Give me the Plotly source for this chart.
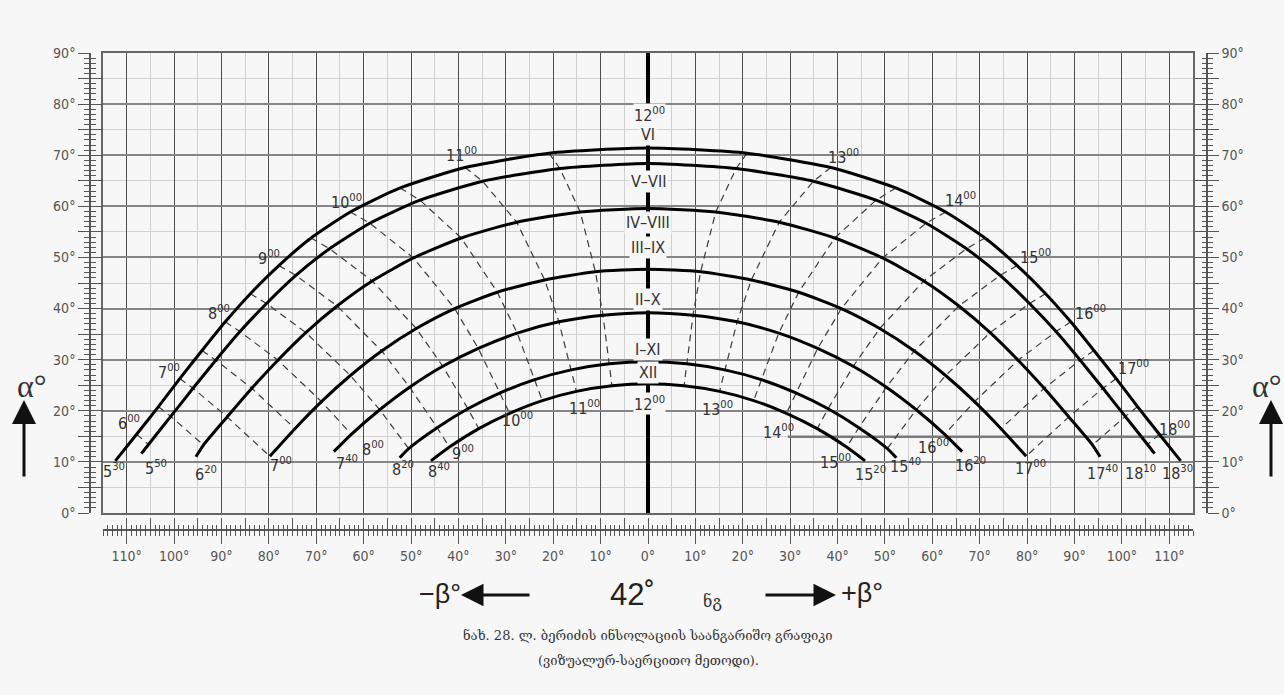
import plotly.graph_objects as go

# ---------------- data ----------------
# times in minutes after midnight, beta = azimuth (deg), alpha = sun altitude (deg)
time_VI = [330, 360, 390, 420, 450, 480, 510, 540, 570, 600, 630, 660, 690, 720,
           750, 780, 810, 840, 870, 900, 930, 960, 990, 1020, 1050, 1080, 1110]
beta_VI = [-112.4, -107.9, -103.3, -98.8, -94.1, -89.2, -83.9, -77.9, -71.1, -62.8, -52.3, -38.6, -20.9, 0,
           20.9, 38.6, 52.3, 62.8, 71.1, 77.9, 83.9, 89.2, 94.1, 98.8, 103.3, 107.9, 112.4]
alpha_VI = [10.2, 15.4, 20.8, 26.3, 31.8, 37.4, 42.9, 48.4, 53.8, 58.9, 63.6, 67.6, 70.4, 71.4,
            70.4, 67.6, 63.6, 58.9, 53.8, 48.4, 42.9, 37.4, 31.8, 26.3, 20.8, 15.4, 10.2]

time_V_VII = [350, 360, 390, 420, 450, 480, 510, 540, 570, 600, 630, 660, 690, 720,
              750, 780, 810, 840, 870, 900, 930, 960, 990, 1020, 1050, 1080, 1090]
beta_V_VII = [-106.9, -105.4, -100.7, -96.0, -91.2, -86.1, -80.5, -74.3, -67.2, -58.7, -48.1, -34.9, -18.6, 0,
              18.6, 34.9, 48.1, 58.7, 67.2, 74.3, 80.5, 86.1, 91.2, 96.0, 100.7, 105.4, 106.9]
alpha_V_VII = [11.6, 13.4, 18.9, 24.4, 29.9, 35.5, 41.0, 46.5, 51.7, 56.7, 61.2, 64.9, 67.4, 68.4,
               67.4, 64.9, 61.2, 56.7, 51.7, 46.5, 41.0, 35.5, 29.9, 24.4, 18.9, 13.4, 11.6]

time_IV_VIII = [380, 390, 420, 450, 480, 510, 540, 570, 600, 630, 660, 690, 720,
                750, 780, 810, 840, 870, 900, 930, 960, 990, 1020, 1050, 1060]
beta_IV_VIII = [-95.4, -93.8, -88.8, -83.6, -78.1, -72.2, -65.6, -58.2, -49.5, -39.4, -27.7, -14.3, 0,
                14.3, 27.7, 39.4, 49.5, 58.2, 65.6, 72.2, 78.1, 83.6, 88.8, 93.8, 95.4]
alpha_IV_VIII = [11.0, 13.3, 18.8, 24.4, 29.9, 35.3, 40.5, 45.4, 49.9, 53.8, 56.9, 58.9, 59.6,
                 58.9, 56.9, 53.8, 49.9, 45.4, 40.5, 35.3, 29.9, 24.4, 18.8, 13.3, 11.0]

time_III_IX = [420, 450, 480, 510, 540, 570, 600, 630, 660, 690, 720,
               750, 780, 810, 840, 870, 900, 930, 960, 990, 1020]
beta_III_IX = [-79.8, -74.5, -68.9, -62.8, -56.2, -48.9, -40.8, -31.8, -21.8, -11.1, 0,
               11.1, 21.8, 31.8, 40.8, 48.9, 56.2, 62.8, 68.9, 74.5, 79.8]
alpha_III_IX = [11.1, 16.5, 21.8, 26.9, 31.7, 36.1, 40.0, 43.2, 45.6, 47.2, 47.7,
                47.2, 45.6, 43.2, 40.0, 36.1, 31.7, 26.9, 21.8, 16.5, 11.1]

time_II_X = [460, 480, 510, 540, 570, 600, 630, 660, 690, 720,
             750, 780, 810, 840, 870, 900, 930, 960, 980]
beta_II_X = [-66.3, -62.6, -56.6, -50.3, -43.3, -35.8, -27.6, -18.8, -9.5, 0,
             9.5, 18.8, 27.6, 35.8, 43.3, 50.3, 56.6, 62.6, 66.3]
alpha_II_X = [12.0, 15.4, 20.2, 24.6, 28.7, 32.2, 35.2, 37.4, 38.7, 39.2,
              38.7, 37.4, 35.2, 32.2, 28.7, 24.6, 20.2, 15.4, 12.0]

time_I_XI = [500, 510, 540, 570, 600, 630, 660, 690, 720,
             750, 780, 810, 840, 870, 900, 930, 940]
beta_I_XI = [-52.4, -50.5, -44.5, -38.0, -31.2, -23.9, -16.2, -8.2, 0,
             8.2, 16.2, 23.9, 31.2, 38.0, 44.5, 50.5, 52.4]
alpha_I_XI = [10.8, 12.6, 16.7, 20.4, 23.5, 26.1, 28.0, 29.2, 29.6,
              29.2, 28.0, 26.1, 23.5, 20.4, 16.7, 12.6, 10.8]

time_XII = [520, 540, 570, 600, 630, 660, 690, 720,
            750, 780, 810, 840, 870, 900, 920]
beta_XII = [-45.8, -41.9, -35.7, -29.2, -22.3, -15.1, -7.6, 0,
            7.6, 15.1, 22.3, 29.2, 35.7, 41.9, 45.8]
alpha_XII = [10.2, 12.9, 16.5, 19.5, 22.0, 23.8, 24.9, 25.3,
             24.9, 23.8, 22.0, 19.5, 16.5, 12.9, 10.2]

# darker reference line seen at about 15 deg on the right-hand side
ref_line_beta = [29.5, 115.0]
ref_line_alpha = [14.9, 14.9]

# month labels on the noon line
month_text = ["VI", "V–VII", "IV–VIII", "III–IX", "II–X", "I–XI", "XII"]
month_alpha = [74.0, 64.8, 56.9, 52.0, 41.7, 31.9, 27.4]

# hour labels (upper ends of the hour lines)
top_text = ["6<sup>00</sup>", "7<sup>00</sup>", "8<sup>00</sup>", "9<sup>00</sup>", "10<sup>00</sup>",
            "11<sup>00</sup>", "12<sup>00</sup>", "13<sup>00</sup>", "14<sup>00</sup>", "15<sup>00</sup>",
            "16<sup>00</sup>", "17<sup>00</sup>", "18<sup>00</sup>"]
top_beta = [-109.5, -101.0, -90.5, -80.0, -63.6, -39.3, 0.4, 41.2, 66.0, 81.8, 93.4, 102.5, 111.0]
top_alpha = [17.8, 27.6, 39.2, 49.9, 60.9, 70.1, 77.9, 69.7, 61.3, 50.1, 39.3, 28.4, 16.6]

# hour labels (lower ends / start and end of each path)
bot_text = ["5<sup>30</sup>", "5<sup>50</sup>", "6<sup>20</sup>", "7<sup>00</sup>", "7<sup>40</sup>",
            "8<sup>00</sup>", "8<sup>20</sup>", "8<sup>40</sup>", "9<sup>00</sup>", "10<sup>00</sup>",
            "11<sup>00</sup>", "12<sup>00</sup>", "13<sup>00</sup>", "14<sup>00</sup>", "15<sup>00</sup>",
            "15<sup>20</sup>", "15<sup>40</sup>", "16<sup>00</sup>", "16<sup>20</sup>", "17<sup>00</sup>",
            "17<sup>40</sup>", "18<sup>10</sup>", "18<sup>30</sup>"]
bot_beta = [-112.7, -103.8, -93.2, -77.4, -63.6, -58.1, -51.8, -44.0, -39.1, -27.5,
            -13.3, 0.4, 14.6, 27.5, 39.5, 46.9, 54.3, 60.2, 68.1, 80.8, 96.0, 104.0, 111.8]
bot_alpha = [8.4, 9.0, 7.8, 9.4, 9.8, 12.7, 8.8, 8.4, 11.9, 18.2,
             20.7, 21.5, 20.5, 15.9, 10.0, 7.8, 9.3, 13.0, 9.4, 9.0, 8.0, 8.0, 8.0]

# axis tick labels
x_tick_vals = [-110, -100, -90, -80, -70, -60, -50, -40, -30, -20, -10, 0,
               10, 20, 30, 40, 50, 60, 70, 80, 90, 100, 110]
x_tick_text = ["110°", "100°", "90°", "80°", "70°", "60°", "50°", "40°", "30°", "20°", "10°", "0°",
               "10°", "20°", "30°", "40°", "50°", "60°", "70°", "80°", "90°", "100°", "110°"]
y_tick_vals = [0, 5, 10, 15, 20, 25, 30, 35, 40, 45, 50, 55, 60, 65, 70, 75, 80, 85, 90]
y_tick_text = ["0°", "", "10°", "", "20°", "", "30°", "", "40°", "", "50°", "", "60°", "",
               "70°", "", "80°", "", "90°"]

caption_1 = "ნახ. 28. ლ. ბერიძის ინსოლაციის საანგარიშო გრაფიკი"
caption_2 = "(ვიზუალურ-საერცითო მეთოდი)."

# ---------------- figure ----------------
W, H = 1284, 695
ML, MR, MT, MB = 40, 40, 40, 120
PW, PH = W - ML - MR, H - MT - MB


def px(xp):
    return (xp - ML) / PW


def py(yp):
    return (H - MB - yp) / PH


BG = "#f7f7f7"
GREY = "#555555"
NARROW = "Liberation Sans Narrow, DejaVu Sans Condensed, DejaVu Sans, sans-serif"

curves = [
    (time_VI, beta_VI, alpha_VI),
    (time_V_VII, beta_V_VII, alpha_V_VII),
    (time_IV_VIII, beta_IV_VIII, alpha_IV_VIII),
    (time_III_IX, beta_III_IX, alpha_III_IX),
    (time_II_X, beta_II_X, alpha_II_X),
    (time_I_XI, beta_I_XI, alpha_I_XI),
    (time_XII, beta_XII, alpha_XII),
]

fig = go.Figure()

fig.add_trace(go.Scatter(x=ref_line_beta, y=ref_line_alpha, mode="lines",
                         line=dict(color="#7a7a7a", width=2.5), hoverinfo="skip", showlegend=False))

# dashed hour / half-hour lines joining equal times on all paths
all_times = sorted({t for c in curves for t in c[0] if t % 30 == 0 and t != 720})
for t in all_times:
    xs, ys = [], []
    for tt, bb, aa in curves:
        if t in tt:
            i = tt.index(t)
            xs.append(bb[i])
            ys.append(aa[i])
    if len(xs) >= 2:
        fig.add_trace(go.Scatter(x=xs, y=ys, mode="lines",
                                 line=dict(color="#3c3c3c", width=1.2, dash="7px,5px"),
                                 hoverinfo="skip", showlegend=False))

# sun paths
for tt, bb, aa in curves:
    fig.add_trace(go.Scatter(x=bb, y=aa, mode="lines",
                             line=dict(color="black", width=3, shape="spline", smoothing=0.6),
                             hoverinfo="skip", showlegend=False))

# helper traces so the ruler axes are drawn
for ya in ["y2", "y3", "y4", "y5"]:
    fig.add_trace(go.Scatter(x=[], y=[], yaxis=ya, showlegend=False, hoverinfo="skip"))
for xa in ["x2", "x3"]:
    fig.add_trace(go.Scatter(x=[], y=[], xaxis=xa, showlegend=False, hoverinfo="skip"))

ann = []
LBL = dict(family=NARROW, size=16, color="#333")
for txt, a in zip(month_text, month_alpha):
    ann.append(dict(x=0, y=a, xref="x", yref="y", text=txt, showarrow=False,
                    xanchor="center", yanchor="middle",
                    font=LBL, bgcolor=BG, borderpad=1))
for txt, b, a in zip(top_text, top_beta, top_alpha):
    ann.append(dict(x=b, y=a, xref="x", yref="y", text=txt, showarrow=False,
                    xanchor="center", yanchor="middle",
                    font=LBL, bgcolor=BG if b == 0.4 else None, borderpad=0))
for txt, b, a in zip(bot_text, bot_beta, bot_alpha):
    ann.append(dict(x=b, y=a, xref="x", yref="y", text=txt, showarrow=False,
                    xanchor="center", yanchor="middle",
                    font=LBL, bgcolor=BG if b == 0.4 else None, borderpad=0))


def paper_text(xp, yp, txt, font):
    return dict(x=px(xp), y=py(yp), xref="paper", yref="paper", text=txt, showarrow=False,
                xanchor="center", yanchor="middle", font=font)


def paper_arrow(xp, yp, ax, ay, size=1.3, width=3):
    return dict(x=px(xp), y=py(yp), xref="paper", yref="paper", text="", showarrow=True,
                ax=ax, ay=ay, arrowhead=2, arrowsize=size, arrowwidth=width, arrowcolor="#111",
                xanchor="center", yanchor="middle")


# alpha arrows at both sides
ALPHA_FONT = dict(family="Liberation Serif, serif", size=32, color="#333")
ann.append(paper_text(32, 386, "α°", ALPHA_FONT))
ann.append(paper_arrow(24, 400, 0, 78, size=1.6, width=3))
ann.append(paper_text(1267, 386, "α°", ALPHA_FONT))
ann.append(paper_arrow(1271, 400, 0, 78, size=1.6, width=3))

# beta direction labels
SANS = "Liberation Sans, sans-serif"
ann.append(paper_text(440, 594, "−β°", dict(family=SANS, size=27, color="#222")))
ann.append(paper_arrow(461, 595, 70, 0, size=1.5, width=3))
ann.append(paper_text(632, 594, "42˚", dict(family=SANS, size=31, color="#222")))
ann.append(paper_text(712, 601, "ნგ", dict(family="DejaVu Serif, DejaVu Sans, serif", size=16, color="#333")))
ann.append(paper_arrow(836, 595, -72, 0, size=1.5, width=3))
ann.append(paper_text(862, 593, "+β°", dict(family=SANS, size=27, color="#222")))

# caption
CAP = dict(family="DejaVu Serif, DejaVu Sans, serif", size=13, color="#333")
ann.append(paper_text(648, 635, caption_1, CAP))
ann.append(paper_text(648, 660, caption_2, CAP))

x_dom = [px(103), px(1193)]
y_dom = [py(513), py(53)]
XR = [-115, 115]
YR = [0, 90]
tickfont = dict(family=NARROW, size=14, color=GREY)

ruler_minor_out = dict(tickmode="linear", tick0=0, dtick=1, ticks="outside", ticklen=5,
                       tickcolor=GREY, tickwidth=1, showgrid=False)
ruler_minor_in = dict(tickmode="linear", tick0=0, dtick=1, ticks="inside", ticklen=5,
                      tickcolor=GREY, tickwidth=1, showgrid=False)

fig.update_layout(
    width=W, height=H, autosize=False,
    margin=dict(l=ML, r=MR, t=MT, b=MB),
    paper_bgcolor=BG, plot_bgcolor=BG,
    showlegend=False,
    annotations=ann,
    xaxis=dict(domain=x_dom, range=XR, tickmode="linear", tick0=0, dtick=10,
               showgrid=True, gridcolor="#4e4e4e", gridwidth=1,
               minor=dict(tickmode="linear", tick0=0, dtick=5, showgrid=True, gridcolor="#cfcfcf", gridwidth=1),
               showticklabels=False, ticks="", zeroline=True, zerolinecolor="black", zerolinewidth=3.5,
               showline=True, linecolor="#666", linewidth=1.5, mirror=True, fixedrange=True),
    yaxis=dict(domain=y_dom, range=YR, tickmode="linear", tick0=0, dtick=10,
               showgrid=True, gridcolor="#858585", gridwidth=2,
               minor=dict(tickmode="linear", tick0=0, dtick=5, showgrid=True, gridcolor="#d2d2d2", gridwidth=1),
               showticklabels=False, ticks="", zeroline=False,
               showline=True, linecolor="#666", linewidth=1.5, mirror=True, fixedrange=True),
    # bottom ruler
    xaxis2=dict(overlaying="x", anchor="free", position=py(530), side="bottom", range=XR,
                tickmode="array", tickvals=x_tick_vals, ticktext=x_tick_text, ticks="outside",
                ticklen=13, tickcolor=GREY, tickwidth=1, tickfont=tickfont,
                minor=ruler_minor_out, showgrid=False, zeroline=False,
                showline=True, linecolor=GREY, linewidth=1.5, fixedrange=True),
    xaxis3=dict(overlaying="x", anchor="free", position=py(530), side="bottom", range=XR,
                tickmode="linear", tick0=0, dtick=5, ticks="inside", ticklen=12, tickcolor=GREY,
                tickwidth=1, showticklabels=False, minor=ruler_minor_in, showgrid=False,
                zeroline=False, showline=False, fixedrange=True),
    # left ruler
    yaxis2=dict(overlaying="y", anchor="free", position=px(90), side="left", range=YR,
                tickmode="array", tickvals=y_tick_vals, ticktext=y_tick_text, ticks="outside",
                ticklen=11, tickcolor=GREY, tickwidth=1, tickfont=tickfont,
                minor=ruler_minor_out, showgrid=False, zeroline=False,
                showline=True, linecolor=GREY, linewidth=1.5, fixedrange=True),
    yaxis3=dict(overlaying="y", anchor="free", position=px(90), side="left", range=YR,
                tickmode="linear", tick0=0, dtick=5, ticks="inside", ticklen=12, tickcolor=GREY,
                tickwidth=1, showticklabels=False, minor=ruler_minor_in, showgrid=False,
                zeroline=False, showline=False, fixedrange=True),
    # right ruler
    yaxis4=dict(overlaying="y", anchor="free", position=px(1207), side="right", range=YR,
                tickmode="array", tickvals=y_tick_vals, ticktext=y_tick_text, ticks="outside",
                ticklen=11, tickcolor=GREY, tickwidth=1, tickfont=tickfont,
                minor=ruler_minor_out, showgrid=False, zeroline=False,
                showline=True, linecolor=GREY, linewidth=1.5, fixedrange=True),
    yaxis5=dict(overlaying="y", anchor="free", position=px(1207), side="right", range=YR,
                tickmode="linear", tick0=0, dtick=5, ticks="inside", ticklen=12, tickcolor=GREY,
                tickwidth=1, showticklabels=False, minor=ruler_minor_in, showgrid=False,
                zeroline=False, showline=False, fixedrange=True),
)

fig.write_html("out.html", config={"displayModeBar": False},
               post_script="document.body.style.margin='0px';document.body.style.background='%s';" % BG)
